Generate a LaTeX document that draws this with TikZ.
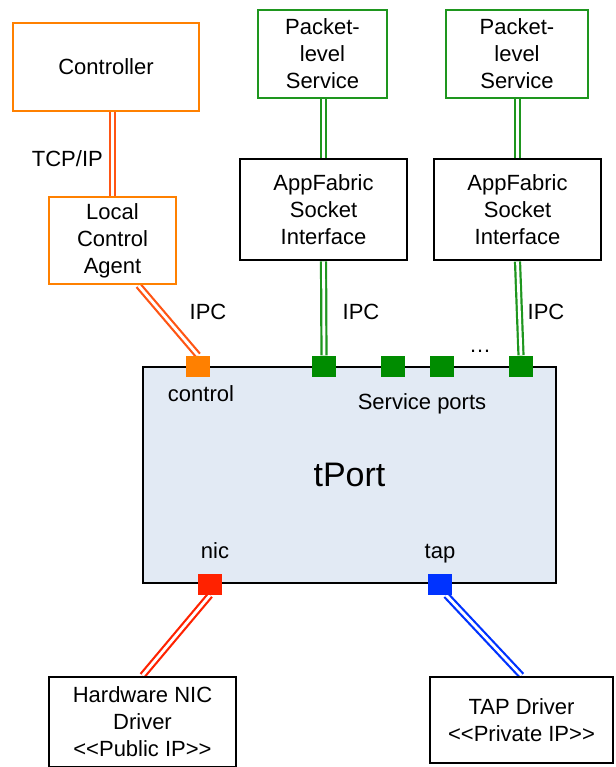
\documentclass[tikz,border=0pt]{standalone}
\usepackage{fontspec}
\setmainfont{Liberation Sans}
\usetikzlibrary{backgrounds}

\definecolor{ctrlorange}{RGB}{255,128,0}
\definecolor{ctrlline}{RGB}{255,85,20}
\definecolor{svcgreen}{RGB}{30,150,30}
\definecolor{portgreen}{RGB}{0,140,0}
\definecolor{nicred}{RGB}{255,34,0}
\definecolor{tapblue}{RGB}{0,51,255}
\definecolor{tportfill}{RGB}{226,234,244}

% <<...>> written so that the TeX mapping does not turn it into guillemets
\newcommand{\stereotype}[1]{<\kern0pt<#1>\kern0pt>}

\begin{document}
\begin{tikzpicture}[x=1pt, y=-1pt,
    box/.style={draw, line width=2.9, inner sep=0, align=center,
                font=\fontsize{22}{27}\selectfont},
    port/.style={minimum width=24, minimum height=21, inner sep=0},
    link/.style={draw=#1, line width=2.2, double=white, double distance=2.8},
    lbl/.style={font=\fontsize{22}{27}\selectfont, inner sep=0, anchor=base}]

    \useasboundingbox (0,0) rectangle (615,767);

    % Control plane
    \node[box, draw=ctrlorange, minimum width=186, minimum height=88] (ctrl) at (106,67) {Controller};
    \node[box, draw=ctrlorange, minimum width=127, minimum height=87] (lca) at (112.5,240.5) {Local\\Control\\Agent};

    % Services and their socket interfaces
    \node[box, draw=svcgreen, minimum width=129, minimum height=88] (pkt1) at (322.5,54) {Packet-\\level\\Service};
    \node[box, draw=svcgreen, minimum width=142, minimum height=88] (pkt2) at (517,54) {Packet-\\level\\Service};
    \node[box, minimum width=167, minimum height=101] (app1) at (323.5,209.5) {AppFabric\\Socket\\Interface};
    \node[box, minimum width=167, minimum height=101] (app2) at (517.5,209.5) {AppFabric\\Socket\\Interface};

    % tPort
    \node[box, fill=tportfill, minimum width=413, minimum height=216,
          font=\fontsize{34}{40}\selectfont] (tport) at (349.5,475) {tPort};

    % Drivers
    \node[box, minimum width=187, minimum height=90] (nicdrv) at (142.5,722) {Hardware NIC\\Driver\\\stereotype{Public IP}};
    \node[box, minimum width=183, minimum height=86] (tapdrv) at (521.5,720) {TAP Driver\\\stereotype{Private IP}};

    % Ports on the tPort border
    \node[port, fill=ctrlorange] (ctl) at (198,366) {};
    \foreach \n/\x in {s1/324, s2/393, s3/442, s4/521}{
        \node[port, fill=portgreen] (\n) at (\x,366) {};
    }
    \node[port, fill=nicred] (nic) at (210,584.5) {};
    \node[port, fill=tapblue] (tap) at (440,584.5) {};

    % Labels
    \node[lbl, anchor=base east] (tcplbl) at (103,167) {TCP/IP};
    \node[lbl] (ipc1) at (208,319) {IPC};
    \node[lbl] (ipc2) at (361,319) {IPC};
    \node[lbl] (ipc3) at (546,319) {IPC};
    \node[lbl] (dots) at (480,352) {\dots};
    \node[lbl] (ctllbl) at (201,401) {control};
    \node[lbl] (svclbl) at (422,409) {Service ports};
    \node[lbl] (niclbl) at (215,558) {nic};
    \node[lbl] (taplbl) at (440,558) {tap};

    % Double-line links
    \begin{scope}[on background layer]
        \draw[link=ctrlline] (ctrl.south -| lca.north) -- (lca.north);
        \draw[link=ctrlline] (lca.-60) -- (ctl.north);
        \draw[link=svcgreen] (pkt1.south -| app1.north) -- (app1.north);
        \draw[link=svcgreen] (app1.south) -- (s1.north);
        \draw[link=svcgreen] (pkt2.south -| app2.north) -- (app2.north);
        \draw[link=svcgreen] (app2.south) -- (s4.north);
        \draw[link=nicred] (nic.south) -- (nicdrv.north);
        \draw[link=tapblue] (tap.-60) -- (tapdrv.north);
    \end{scope}
\end{tikzpicture}
\end{document}
